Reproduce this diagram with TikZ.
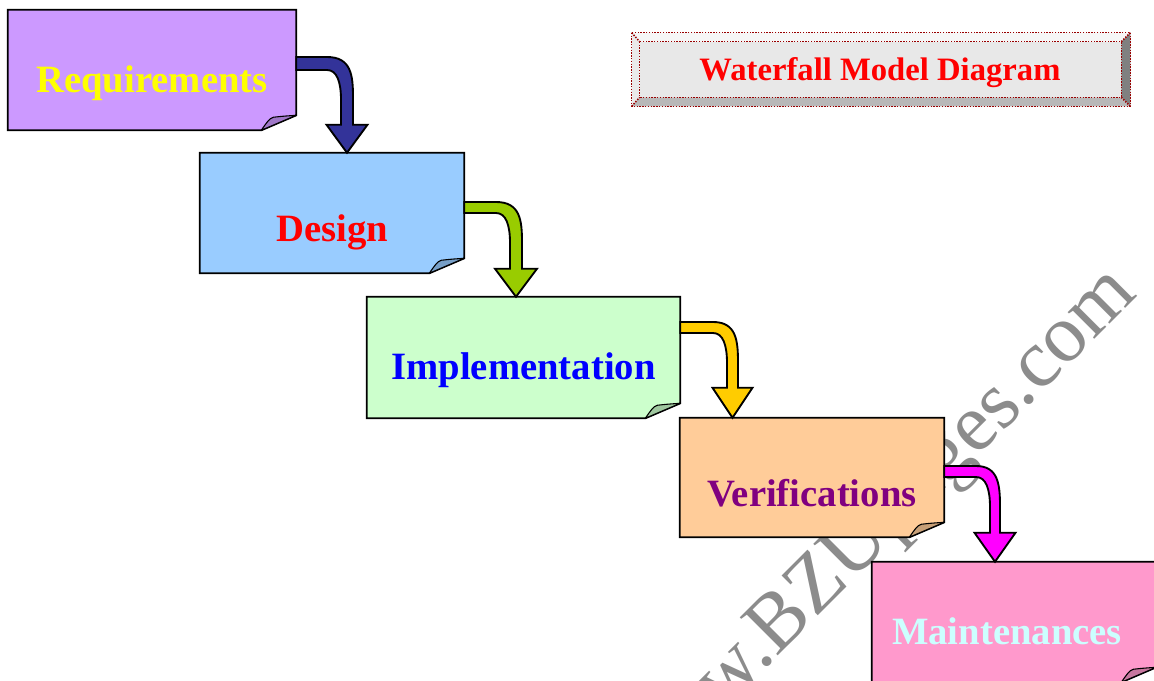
\documentclass[tikz,border=0pt]{standalone}
\usepackage{fontspec}
\setmainfont{Liberation Serif}
\usetikzlibrary{calc,fit}

\definecolor{reqfill}{HTML}{CC99FF}
\definecolor{desfill}{HTML}{99CCFF}
\definecolor{impfill}{HTML}{CCFFCC}
\definecolor{verfill}{HTML}{FFCC99}
\definecolor{maifill}{HTML}{FF99CC}
\definecolor{reqtext}{HTML}{FFFF00}
\definecolor{destext}{HTML}{FF0000}
\definecolor{imptext}{HTML}{0000FF}
\definecolor{vertext}{HTML}{800080}
\definecolor{maitext}{HTML}{CCFFFF}
\definecolor{navyarrow}{HTML}{333399}
\definecolor{limearrow}{HTML}{99CC00}
\definecolor{goldarrow}{HTML}{FFCC00}
\definecolor{pinkarrow}{HTML}{FF00FF}
\definecolor{bevelred}{HTML}{990000}
\definecolor{faceg}{HTML}{E8E8E8}
\definecolor{lightg}{HTML}{F6F6F6}
\definecolor{midg}{HTML}{B8B8B8}
\definecolor{darkg}{HTML}{808080}
\definecolor{markgray}{HTML}{8C8C8C}

\tikzset{
  boxline/.style={draw=black, line width=1.4pt, line join=miter},
  flapline/.style={draw=black, line width=0.8pt, line join=round},
  arrowline/.style={draw=black, line width=1.4pt, line join=miter},
  steptext/.style={font=\bfseries\fontsize{29}{32}\selectfont, anchor=base, inner sep=0pt},
  titletext/.style={font=\bfseries\fontsize{24.5}{28}\selectfont, anchor=base, inner sep=0pt, text=destext},
  beveldots/.style={draw=bevelred, densely dotted, line width=1.1pt},
  watermark/.style={font=\fontsize{61.5}{64}\selectfont, text=markgray, anchor=base west, inner sep=0pt, rotate=45},
}

% note box with a curled bottom-right corner: #1 name, #2-#5 left/top/right/bottom, #6 fill
\newcommand\notebox[6]{%
  \coordinate (#1-nw) at (#2,#3);
  \coordinate (#1-se) at (#4,#5);
  \node[fit=(#1-nw)(#1-se), inner sep=0pt] (#1) {};
  \filldraw[boxline, fill=#6]
    (#1.north west) -- (#1.north east) -- ($(#1.south east)+(0,-15)$)
    -- ($(#1.south east)+(-35,0)$) -- (#1.south west) -- cycle;
  \filldraw[flapline, fill=#6!78!black]
    ($(#1.south east)+(-35,0)$)
    .. controls ($(#1.south east)+(-30,-7)$) and ($(#1.south east)+(-27,-12)$) .. ($(#1.south east)+(-23,-13)$)
    .. controls ($(#1.south east)+(-14,-14)$) .. ($(#1.south east)+(0,-15)$) -- cycle;
}

% bent block arrow from the east side of #1 down onto the top of #2
% #3 band top y, #4 band thickness, #5 shaft centre x, #6 shaft half width,
% #7 head half width, #8 head length, #9 fill colour
\newcommand\flowarrow[9]{%
  \coordinate (fa-s) at (#1.east |- 0,#3);
  \coordinate (fa-t) at (#5,0 |- #2.north);
  \coordinate (fa-c) at (fa-t |- fa-s);
  \filldraw[arrowline, fill=#9]
    (fa-s) -- ($(fa-c)+(-#6-14,0)$)
    .. controls ($(fa-c)+(#6-2,0)$) and ($(fa-c)+(#6,18)$) .. ($(fa-c)+(#6,40)$)
    -- ($(fa-t)+(#6,-#8)$) -- ($(fa-t)+(#7,-#8)$) -- (fa-t)
    -- ($(fa-t)+(-#7,-#8)$) -- ($(fa-t)+(-#6,-#8)$)
    -- ($(fa-c)+(-#6,#4+30)$)
    .. controls ($(fa-c)+(-#6,#4+12)$) and ($(fa-c)+(-#6-4,#4)$) .. ($(fa-c)+(-#6-14,#4)$)
    -- ($(fa-s)+(0,#4)$) -- cycle;
}

\begin{document}
\begin{tikzpicture}[x=0.75pt, y=-0.75pt]
  \useasboundingbox (0,0) rectangle (1154,681);
  \fill[white] (0,0) rectangle (1154,681);

  % site watermark behind everything
  \node[watermark] (wm) at (640,794) {www.BZUpages.com};

  % title button with bevelled edges
  \coordinate (tb-onw) at (632,33);
  \coordinate (tb-ose) at (1130,106);
  \coordinate (tb-inw) at (640,42);
  \coordinate (tb-ise) at (1121,97);
  \node[fit=(tb-onw)(tb-ose), inner sep=0pt] (titlebox) {};
  \node[fit=(tb-inw)(tb-ise), inner sep=0pt] (titleface) {};
  \fill[lightg] (titlebox.north west) -- (titlebox.north east) -- (titleface.north east) -- (titleface.north west) -- cycle;
  \fill[lightg!95!black] (titlebox.north west) -- (titleface.north west) -- (titleface.south west) -- (titlebox.south west) -- cycle;
  \fill[darkg] (titlebox.north east) -- (titlebox.south east) -- (titleface.south east) -- (titleface.north east) -- cycle;
  \fill[midg] (titlebox.south west) -- (titleface.south west) -- (titleface.south east) -- (titlebox.south east) -- cycle;
  \fill[faceg] (titleface.north west) rectangle (titleface.south east);
  \draw[beveldots] (titlebox.north west) rectangle (titlebox.south east);
  \draw[beveldots] (titleface.north west) rectangle (titleface.south east);
  \draw[beveldots] (titlebox.north west) -- (titleface.north west);
  \draw[beveldots] (titlebox.north east) -- (titleface.north east);
  \draw[beveldots] (titlebox.south west) -- (titleface.south west);
  \draw[beveldots] (titlebox.south east) -- (titleface.south east);
  \node[titletext] (title) at (880,81) {Waterfall Model Diagram};

  % the five phases
  \notebox{req}{8}{10}{296}{130}{reqfill}
  \notebox{des}{200}{153}{464}{273}{desfill}
  \notebox{imp}{367}{297}{680}{418}{impfill}
  \notebox{ver}{680}{418}{944}{537}{verfill}
  \notebox{mai}{872}{562}{1156}{682}{maifill}

  \node[steptext, text=reqtext] (req-t) at ($(req.north)+(0,83)$) {Requirements};
  \node[steptext, text=destext] (des-t) at ($(des.north)+(0,89)$) {Design};
  \node[steptext, text=imptext] (imp-t) at ($(imp.north)+(0,83)$) {Implementation};
  \node[steptext, text=vertext] (ver-t) at ($(ver.north)+(0,89)$) {Verifications};
  \node[steptext, text=maitext] (mai-t) at ($(mai.north)+(-7,83)$) {Maintenances};

  % flow between phases
  \flowarrow{req}{des}{57}{13}{347}{6}{20.5}{28}{navyarrow}
  \flowarrow{des}{imp}{202}{11}{516}{6}{21}{28}{limearrow}
  \flowarrow{imp}{ver}{322}{11}{732.5}{5.5}{20}{30}{goldarrow}
  \flowarrow{ver}{mai}{466}{11}{995}{5}{20.5}{29}{pinkarrow}
\end{tikzpicture}
\end{document}
